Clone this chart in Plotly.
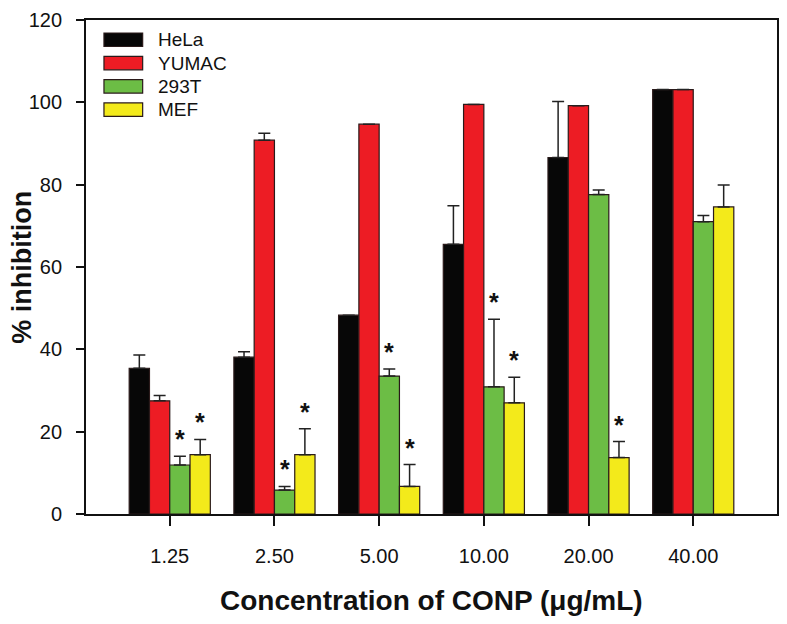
import plotly.graph_objects as go

# ---- data ----
concentrations = ["1.25", "2.50", "5.00", "10.00", "20.00", "40.00"]
series_names = ["HeLa", "YUMAC", "293T", "MEF"]
hela = [35.4, 38.1, 48.3, 65.5, 86.6, 103.1]
hela_err = [3.2, 1.3, None, 9.4, 13.6, None]
yumac = [27.5, 90.8, 94.7, 99.5, 99.2, 103.1]
yumac_err = [1.3, 1.7, None, None, None, None]
t293 = [11.9, 5.8, 33.5, 30.9, 77.6, 71.0]
t293_err = [2.1, 0.9, 1.7, 16.4, 1.1, 1.5]
mef = [14.4, 14.4, 6.7, 27.0, 13.7, 74.6]
mef_err = [3.7, 6.3, 5.3, 6.2, 3.9, 5.3]
# significance markers (True = '*')
t293_sig = [True, True, True, True, False, False]
mef_sig = [True, True, True, True, True, False]

colors = ["#070707", "#ED1C24", "#6CBD45", "#F3EA1B"]
values = [hela, yumac, t293, mef]
errors = [hela_err, yumac_err, t293_err, mef_err]

BARGAP = 0.225
FONT = "Liberation Sans, Arial, sans-serif"

xs = list(range(len(concentrations)))
fig = go.Figure()
for name, vals, errs, col in zip(series_names, values, errors, colors):
    fig.add_trace(go.Bar(
        x=xs, y=vals, name=name,
        marker=dict(color=col, line=dict(color="#2a1a1a", width=1.2)),
        error_y=dict(type="data", symmetric=False, array=errs,
                     arrayminus=[0] * len(errs), color="#222222",
                     thickness=1.5, width=6),
        showlegend=False,
    ))

# significance stars
group_w = 1 - BARGAP
bar_w = group_w / len(series_names)
annotations = []
for s_idx, (vals, errs, sig) in enumerate([(t293, t293_err, t293_sig), (mef, mef_err, mef_sig)]):
    series_pos = 2 + s_idx
    off = -group_w / 2 + bar_w * (series_pos + 0.5)
    for i, flag in enumerate(sig):
        if flag:
            top = vals[i] + (errs[i] or 0)
            annotations.append(dict(
                x=i + off, y=top, xref="x", yref="y", text="<b>*</b>",
                showarrow=False, yanchor="bottom", yshift=1,
                font=dict(family=FONT, size=25, color="#111111")))

# custom legend (wide boxes like the reference)
shapes = []
L_X0, L_X1, L_TX = 0.026, 0.082, 0.102
row_top = 33
row_h = 13.5
row_step = 23.3
plot_top, plot_bot = 20, 514
for k, (name, col) in enumerate(zip(series_names, colors)):
    y0px = row_top + k * row_step
    y1px = y0px + row_h
    py0 = (plot_bot - y1px) / (plot_bot - plot_top)
    py1 = (plot_bot - y0px) / (plot_bot - plot_top)
    shapes.append(dict(type="rect", xref="paper", yref="paper",
                       x0=L_X0, x1=L_X1, y0=py0, y1=py1,
                       fillcolor=col, line=dict(color="#2a1a1a", width=1.2)))
    annotations.append(dict(x=L_TX, y=(py0 + py1) / 2, xref="paper", yref="paper",
                            text=name, showarrow=False, xanchor="left", yanchor="middle",
                            font=dict(family=FONT, size=19, color="#111111")))

# axis titles
annotations.append(dict(x=0.5, y=-0.175, xref="paper", yref="paper",
                        text="<b>Concentration of CONP (μg/mL)</b>", showarrow=False,
                        xanchor="center", yanchor="middle",
                        font=dict(family=FONT, size=28, color="#111111")))
annotations.append(dict(x=-0.093, y=0.5, xref="paper", yref="paper",
                        text="<b>% inhibition</b>", showarrow=False, textangle=-90,
                        xanchor="center", yanchor="middle",
                        font=dict(family=FONT, size=27, color="#111111")))

# page body has an 8px margin, so the figure is offset by 8px
fig.update_layout(
    width=779, height=616,
    margin=dict(l=78, r=10, t=12, b=110, autoexpand=False),
    paper_bgcolor="white", plot_bgcolor="white",
    barmode="group", bargap=BARGAP, bargroupgap=0,
    font=dict(family=FONT, size=20, color="#111111"),
    shapes=shapes, annotations=annotations,
    showlegend=False,
)
fig.update_xaxes(
    range=[-0.8, 5.8], tickmode="array", tickvals=xs, ticktext=concentrations,
    showline=True, linecolor="#111111", linewidth=1.8, mirror=True,
    ticks="outside", ticklen=10, tickwidth=1.5, tickcolor="#111111",
    ticklabelstandoff=13, showgrid=False, zeroline=False, automargin=False,
    tickfont=dict(family=FONT, size=20, color="#111111"),
)
fig.update_yaxes(
    range=[0, 120], dtick=20, tick0=0,
    showline=True, linecolor="#111111", linewidth=1.8, mirror=True,
    ticks="outside", ticklen=8, tickwidth=1.5, tickcolor="#111111",
    ticklabelstandoff=10, showgrid=False, zeroline=False, automargin=False,
    tickfont=dict(family=FONT, size=20, color="#111111"),
)

fig.write_html("out.html")
